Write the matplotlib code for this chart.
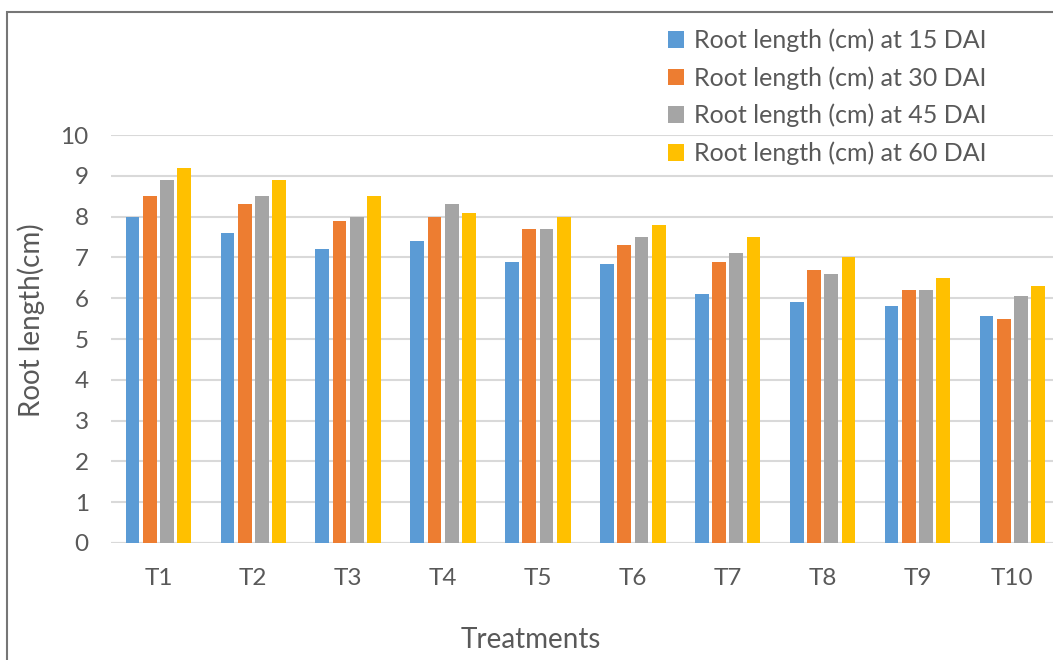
import numpy as np
import matplotlib.pyplot as plt
from matplotlib.patches import Rectangle

# Root length data
treatments = ["T1", "T2", "T3", "T4", "T5", "T6", "T7", "T8", "T9", "T10"]
dai_15 = [8.0, 7.6, 7.2, 7.4, 6.9, 6.85, 6.1, 5.9, 5.8, 5.57]
dai_30 = [8.5, 8.3, 7.9, 8.0, 7.7, 7.3, 6.9, 6.7, 6.2, 5.5]
dai_45 = [8.9, 8.5, 8.0, 8.3, 7.7, 7.5, 7.1, 6.6, 6.2, 6.05]
dai_60 = [9.2, 8.9, 8.5, 8.1, 8.0, 7.8, 7.5, 7.0, 6.5, 6.3]
series_labels = ["Root length (cm) at 15 DAI", "Root length (cm) at 30 DAI",
                 "Root length (cm) at 45 DAI", "Root length (cm) at 60 DAI"]
colors = ["#5B9BD5", "#ED7D31", "#A5A5A5", "#FFC000"]

plt.rcParams['font.family'] = ['Lato', 'DejaVu Sans']

fig = plt.figure(figsize=(10.53, 6.6), dpi=100)
ax = fig.add_axes([0.1054, 0.1773, 0.901, 0.618])

x = np.arange(len(treatments))
step = 0.182
bars = []
for i, (vals, col, lab) in enumerate(zip([dai_15, dai_30, dai_45, dai_60], colors, series_labels)):
    b = ax.bar(x + (i - 1.5) * step, vals, width=0.145, color=col, label=lab, zorder=3)
    bars.append(b)

ax.set_xlim(-0.5, 9.5)
ax.set_ylim(0, 10)
ax.set_yticks(range(0, 11))
ax.set_xticks(x)
ax.set_xticklabels(treatments)
ax.grid(axis='y', color='#d9d9d9', linewidth=1.5, zorder=0)
for s in ax.spines.values():
    s.set_visible(False)
ax.axhline(0, color='#d9d9d9', linewidth=1.5, zorder=2)
ax.tick_params(axis='both', length=0, labelsize=17.5, colors='#595959')
ax.tick_params(axis='y', pad=16)
ax.tick_params(axis='x', pad=18)

fig.text(0.030, 0.515, "Root length(cm)", rotation=90, ha='center', va='center',
         fontsize=20, color='#595959')
fig.text(0.504, 0.030, "Treatments", ha='center', va='center',
         fontsize=20, color='#595959')

fig.legend(handles=bars, loc='upper left', bbox_to_anchor=(0.615, 0.987),
           frameon=False, fontsize=18, labelcolor='#595959',
           handlelength=0.65, handleheight=0.65, handletextpad=0.4,
           labelspacing=0.56, borderpad=0.3)

# chart border
fig.add_artist(Rectangle((7 / 1053, -0.1), 1.2, 1 - 12 / 660 + 0.1,
                         transform=fig.transFigure, fill=False,
                         edgecolor='#767676', linewidth=1.5))

fig.savefig("out.png", dpi=100)
